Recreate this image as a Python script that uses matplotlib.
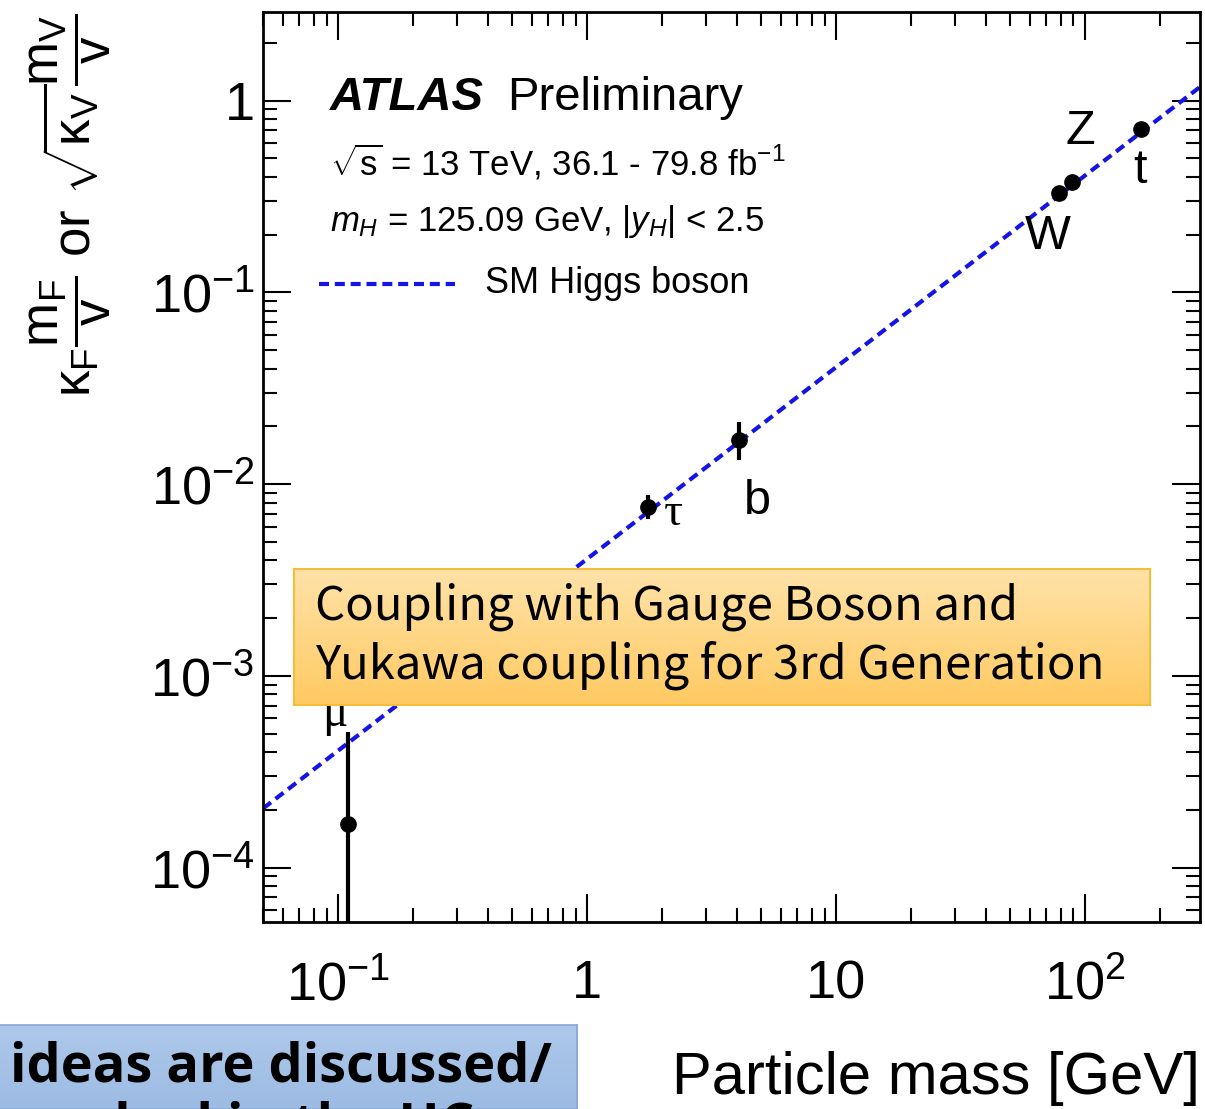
import numpy as np
import matplotlib
matplotlib.use('Agg')
import matplotlib.pyplot as plt
from matplotlib.ticker import LogLocator, FixedLocator, NullFormatter
from matplotlib.colors import LinearSegmentedColormap

plt.rcParams['font.family'] = ['Liberation Sans', 'DejaVu Sans']
plt.rcParams['mathtext.fontset'] = 'custom'
plt.rcParams['mathtext.rm'] = 'Liberation Sans'
plt.rcParams['mathtext.it'] = 'Liberation Sans:italic'
plt.rcParams['mathtext.bf'] = 'Liberation Sans:bold'

particles = ['mu', 'tau', 'b', 'W', 'Z', 't']
mass = [0.11, 1.76, 4.1, 79.0, 89.0, 168.0]
coupling = [1.69e-4, 7.6e-3, 0.017, 0.328, 0.378, 0.715]
err_lo = [1.69e-4, 1.0e-3, 0.0037, 0.0, 0.0, 0.0]
err_hi = [3.4e-4, 1.2e-3, 0.004, 0.0, 0.0, 0.0]

vev = 246.0
sm_mass = [0.05, 300.0]

x_ticks = [0.1, 1, 10, 100]
x_ticklabels = [r'$10^{-1}$', '1', '10', r'$10^{2}$']
y_ticks = [1e-4, 1e-3, 1e-2, 1e-1, 1]
y_ticklabels = [r'$10^{-4}$', r'$10^{-3}$', r'$10^{-2}$', r'$10^{-1}$', '1']


def main():
    fig = plt.figure(figsize=(12.05, 11.09), dpi=100)
    W, H = 1205.0, 1109.0
    ax = fig.add_axes([263 / W, 1 - 922 / H, 937 / W, 910 / H])
    ax.set_xscale('log')
    ax.set_yscale('log')
    ax.set_xlim(0.05, 290)
    ax.set_ylim(5.2e-5, 2.9)

    # SM expectation m/v
    sm = np.array(sm_mass)
    ax.plot(sm, sm / vev, color='#1414e6', linewidth=3.0,
            linestyle=(0, (2.4, 1.4)), zorder=2)

    ax.errorbar(mass, coupling, yerr=[err_lo, err_hi], fmt='o', color='black',
                markersize=11, elinewidth=3.0, capsize=0, zorder=3)

    # particle labels
    ax.text(0.097, 6.3e-4, 'μ', fontsize=34, ha='center', va='center',
            family=['Liberation Serif'], zorder=1)
    ax.text(2.22, 7.0e-3, 'τ', fontsize=34, ha='center', va='center',
            family=['Liberation Serif'])
    ax.text(4.85, 0.0081, 'b', fontsize=35, ha='center', va='center')
    ax.text(71, 0.195, 'W', fontsize=35, ha='center', va='center')
    ax.text(96, 0.69, 'Z', fontsize=35, ha='center', va='center')
    ax.text(166, 0.43, 't', fontsize=35, ha='center', va='center')

    # ticks ROOT style
    ax.xaxis.set_major_locator(FixedLocator(x_ticks))
    ax.set_xticklabels(x_ticklabels)
    ax.xaxis.set_minor_locator(LogLocator(base=10, subs=np.arange(2, 10)))
    ax.xaxis.set_minor_formatter(NullFormatter())
    ax.yaxis.set_major_locator(FixedLocator(y_ticks))
    ax.set_yticklabels(y_ticklabels)
    ax.yaxis.set_minor_locator(LogLocator(base=10, subs=np.arange(2, 10)))
    ax.yaxis.set_minor_formatter(NullFormatter())
    ax.tick_params(which='both', direction='in', top=True, right=True,
                   width=1.5, labelsize=39)
    ax.tick_params(which='major', length=20)
    ax.tick_params(which='minor', length=10)
    ax.tick_params(axis='x', pad=27)
    ax.tick_params(axis='y', pad=6)
    for s in ax.spines.values():
        s.set_linewidth(2.0)

    fig.text(70 / W, 1 - 205 / H,
             r'$\mathrm{\kappa_F\dfrac{m_F}{v}}$ or '
             r'$\mathrm{\sqrt{\kappa_V}\dfrac{m_V}{v}}$',
             fontsize=38, rotation=90, ha='center', va='center')

    fig.text(1200 / W, 1 - 1078 / H, 'Particle mass [GeV]', fontsize=43,
             ha='right', va='center')

    # ATLAS header
    ax.text(0.072, 0.905, 'ATLAS', transform=ax.transAxes, fontsize=34,
            fontweight='bold', fontstyle='italic', va='center')
    ax.text(0.261, 0.905, 'Preliminary', transform=ax.transAxes, fontsize=34,
            va='center')
    ax.text(0.072, 0.835, r'$\sqrt{\mathrm{s}}$ = 13 TeV, 36.1 - 79.8 fb$^{-1}$',
            transform=ax.transAxes, fontsize=25, va='center')
    ax.text(0.072, 0.77, r'$m_H$ = 125.09 GeV, $|y_H|$ < 2.5',
            transform=ax.transAxes, fontsize=25, va='center')
    ax.plot([0.06, 0.205], [0.701, 0.701], transform=ax.transAxes,
            color='#1414e6', linewidth=3.0, linestyle=(0, (2.4, 1.4)))
    ax.text(0.237, 0.702, 'SM Higgs boson', transform=ax.transAxes,
            fontsize=26, va='center')

    # yellow annotation box with a soft vertical gradient
    bx = fig.add_axes([294 / W, 1 - 705 / H, 856 / W, 136 / H])
    grad = np.linspace(0, 1, 64).reshape(-1, 1)
    cmap = LinearSegmentedColormap.from_list('y', ['#FFE2A8', '#FFCA62'])
    bx.imshow(grad, aspect='auto', cmap=cmap, extent=[0, 1, 0, 1])
    bx.set_xticks([])
    bx.set_yticks([])
    for s in bx.spines.values():
        s.set_color('#F4BE3A')
        s.set_linewidth(1.5)
    bx.text(0.025, 0.72, 'Coupling with Gauge Boson and', fontsize=34,
            family=['Noto Sans CJK JP'], va='center')
    bx.text(0.025, 0.29, 'Yukawa coupling for 3rd Generation', fontsize=34,
            family=['Noto Sans CJK JP'], va='center')

    # blue box at the lower left, cut by the frame
    cx = fig.add_axes([-0.01, 0.0, (577 / W) + 0.01, 1 - 1025 / H])
    cmap2 = LinearSegmentedColormap.from_list('b', ['#9DBBE3', '#ADC8EA'])
    cx.imshow(np.linspace(0, 1, 64).reshape(-1, 1)[::-1], aspect='auto',
              cmap=cmap2, extent=[0, 1, 0, 1])
    cx.set_xticks([])
    cx.set_yticks([])
    for s in cx.spines.values():
        s.set_color('#86A8D6')
        s.set_linewidth(1.2)
    cx.text(0.037, 0.5, 'ideas are discussed/', fontsize=39, fontweight='bold',
            family=['Open Sans', 'Noto Sans CJK JP'], va='center')
    cx.text(0.037, -0.22, 'worked in the HC conf', fontsize=39,
            fontweight='bold', family=['Open Sans', 'Noto Sans CJK JP'],
            va='center', clip_on=True)

    fig.savefig('out.png', dpi=100)


if __name__ == '__main__':
    main()
